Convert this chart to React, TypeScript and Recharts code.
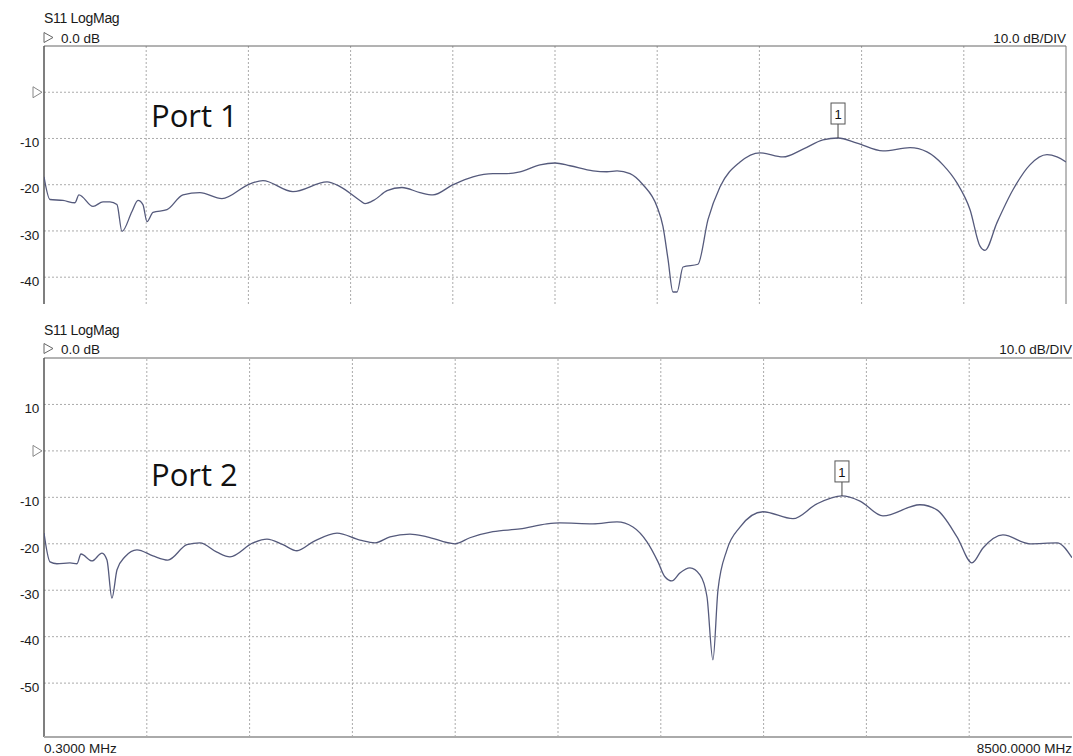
import React from "react";
import { LineChart, Line, XAxis, YAxis, ReferenceLine, ReferenceDot } from "recharts";

// ---------- data ----------
const FREQ_MIN = 0.3;
const FREQ_MAX = 8500;
const DIVISIONS = 10;

const port1Freq = [0.3, 50, 158, 258, 291, 408, 491, 549, 607, 649, 732, 782, 823, 857, 907, 1023, 1156, 1297, 1480, 1713, 1821, 2071, 2354, 2462, 2628, 2670, 2753, 2853, 2977, 3127, 3235, 3402, 3568, 3734, 3851, 3959, 4125, 4250, 4375, 4566, 4682, 4766, 4874, 4982, 5098, 5148, 5190, 5231, 5265, 5315, 5439, 5523, 5622, 5789, 5955, 6146, 6313, 6479, 6604, 6762, 6978, 7203, 7344, 7477, 7593, 7702, 7785, 7826, 7926, 8059, 8200, 8342, 8425, 8500];
const port1Db = [-18.3, -23.2, -23.4, -23.9, -22.2, -24.7, -23.7, -23.7, -24.3, -30.1, -25.8, -23.4, -24.3, -28.0, -26.0, -25.4, -22.2, -21.7, -23.0, -19.8, -19.1, -21.5, -19.4, -20.4, -23.4, -24.1, -23.2, -21.3, -20.6, -21.7, -22.2, -20.0, -18.3, -17.6, -17.6, -17.2, -15.7, -15.3, -15.9, -17.0, -17.2, -17.0, -17.6, -20.0, -24.7, -29.0, -36.1, -43.2, -43.2, -37.8, -37.2, -27.5, -20.5, -15.1, -13.1, -14.0, -12.3, -10.3, -9.9, -11.0, -12.7, -12.0, -12.9, -15.7, -19.6, -25.4, -33.3, -34.2, -28.2, -21.1, -15.7, -13.5, -14.0, -15.1];

const port2Freq = [0.3, 50, 107, 215, 273, 306, 397, 480, 521, 562, 604, 670, 769, 901, 1025, 1182, 1290, 1430, 1538, 1728, 1844, 1976, 2092, 2224, 2423, 2613, 2737, 2861, 3026, 3167, 3398, 3522, 3712, 3936, 4159, 4266, 4539, 4738, 4870, 4986, 5077, 5134, 5192, 5258, 5341, 5424, 5482, 5531, 5573, 5647, 5755, 5945, 6193, 6391, 6598, 6747, 6937, 7243, 7383, 7549, 7673, 7764, 7929, 8152, 8376, 8500];
const port2Db = [-17.7, -23.9, -24.3, -24.1, -24.3, -22.2, -23.7, -22.0, -23.5, -31.7, -25.6, -22.8, -21.3, -22.6, -23.5, -20.2, -19.8, -21.8, -22.8, -19.8, -19.0, -20.2, -21.5, -19.6, -17.7, -19.2, -19.8, -18.5, -17.9, -18.5, -20.0, -18.7, -17.4, -16.8, -15.7, -15.5, -15.7, -15.3, -16.4, -19.6, -23.9, -27.1, -28.0, -26.3, -25.2, -26.7, -31.4, -45.0, -29.9, -21.3, -16.4, -13.1, -14.6, -11.4, -9.7, -10.8, -14.0, -11.6, -12.7, -18.5, -24.1, -20.9, -18.1, -20.0, -19.8, -23.0];

const port1Ticks = [10, 0, -10, -20, -30, -40];
const port2Ticks = [20, 10, 0, -10, -20, -30, -40, -50];
const port1Domain = [-45.8, 10];
const port2Domain = [-61.6, 20];

const marker1 = { f: 6604, db: -9.9, label: "1" };
const marker2 = { f: 6598, db: -9.7, label: "1" };

const titleText = "S11 LogMag";
const refText = "0.0 dB";
const scaleText = "10.0 dB/DIV";
const startLabel = "0.3000 MHz";
const stopLabel = "8500.0000 MHz";
const portLabels = ["Port 1", "Port 2"];

// ---------- styles ----------
const FONT = "'Liberation Sans', Arial, sans-serif";
const TRACE = "#555a7c";
const GRID = "#ababab";

const divisionValues = Array.from({ length: DIVISIONS + 1 }, (_, k) => FREQ_MIN + (k * (FREQ_MAX - FREQ_MIN)) / DIVISIONS);

const makeTick = (topValue: number) => (props: any) => {
  const { x, y, payload } = props;
  const v = payload.value;
  if (v === topValue) return null;
  if (v === 0) {
    return (
      <polygon
        points={`${x - 6},${y - 5.5} ${x + 3},${y} ${x - 6},${y + 5.5}`}
        fill="none"
        stroke="#888"
        strokeWidth={1}
      />
    );
  }
  return (
    <text x={x} y={y + 4} dy="0.35em" textAnchor="end" fontFamily={FONT} fontSize={13.5} fill="#1a1a1a" letterSpacing={-0.2}>
      {v}
    </text>
  );
};

const makeMarker = (label: string) => (props: any) => {
  const { cx, cy } = props;
  return (
    <g>
      <line x1={cx} y1={cy} x2={cx} y2={cy - 14} stroke="#444" strokeWidth={1} />
      <rect x={cx - 7} y={cy - 35} width={14} height={21} fill="#fff" stroke="#555" strokeWidth={1} />
      <text x={cx} y={cy - 19} textAnchor="middle" fontFamily={FONT} fontSize={13} fill="#111">
        {label}
      </text>
    </g>
  );
};

type PanelProps = {
  freq: number[];
  db: number[];
  ticks: number[];
  domain: number[];
  marker: { f: number; db: number; label: string };
  height: number;
  margin: { top: number; right: number; bottom: number; left: number };
  rightBorder: boolean;
  bottomBorder: boolean;
};

function Panel({ freq, db, ticks, domain, marker, height, margin, rightBorder, bottomBorder }: PanelProps) {
  const data = freq.map((f, i) => ({ f, db: db[i] }));
  const top = domain[1];
  return (
    <LineChart width={1073} height={height} data={data} margin={margin}>
      <XAxis type="number" dataKey="f" domain={[FREQ_MIN, FREQ_MAX]} hide allowDataOverflow />
      <YAxis
        type="number"
        domain={domain}
        ticks={ticks}
        width={44}
        tickSize={0}
        tickMargin={5}
        axisLine={false}
        tickLine={false}
        interval={0}
        allowDataOverflow
        tick={makeTick(top)}
      />
      {ticks
        .filter((t) => t !== top)
        .map((t) => (
          <ReferenceLine key={"h" + t} y={t} stroke={GRID} strokeDasharray="2 2" strokeWidth={1} />
        ))}
      {divisionValues.slice(1, DIVISIONS).map((v) => (
        <ReferenceLine key={"v" + v} x={v} stroke={GRID} strokeDasharray="2 2" strokeWidth={1} />
      ))}
      <ReferenceLine y={top} stroke="#666" strokeWidth={1} />
      <ReferenceLine x={FREQ_MIN} stroke="#555" strokeWidth={1.5} />
      {rightBorder && <ReferenceLine x={FREQ_MAX} stroke="#777" strokeWidth={1} />}
      {bottomBorder && <ReferenceLine y={domain[0]} stroke="#aaa" strokeWidth={2} />}
      <Line
        type="monotone"
        dataKey="db"
        stroke={TRACE}
        strokeWidth={1.3}
        dot={false}
        isAnimationActive={false}
      />
      <ReferenceDot x={marker.f} y={marker.db} r={0} shape={makeMarker(marker.label)} />
    </LineChart>
  );
}

function HeaderTriangle({ x, y }: { x: number; y: number }) {
  return <polygon points={`${x},${y - 5} ${x + 9},${y} ${x},${y + 5}`} fill="none" stroke="#666" strokeWidth={1} />;
}

export default function App() {
  return (
    <div style={{ position: "absolute", left: 0, top: 0, width: 1073, height: 756, background: "#fff", overflow: "hidden" }}>
      <div style={{ position: "absolute", left: 0, top: 0 }}>
        <Panel
          freq={port1Freq}
          db={port1Db}
          ticks={port1Ticks}
          domain={port1Domain}
          marker={marker1}
          height={305}
          margin={{ top: 46, right: 7, bottom: 1, left: 0 }}
          rightBorder={true}
          bottomBorder={false}
        />
      </div>
      <div style={{ position: "absolute", left: 0, top: 0 }}>
        <Panel
          freq={port2Freq}
          db={port2Db}
          ticks={port2Ticks}
          domain={port2Domain}
          marker={marker2}
          height={740}
          margin={{ top: 358, right: 1, bottom: 3, left: 0 }}
          rightBorder={false}
          bottomBorder={true}
        />
      </div>
      <svg width={1073} height={756} style={{ position: "absolute", left: 0, top: 0, pointerEvents: "none" }}>
        <g fontFamily={FONT} fill="#1a1a1a">
          <text x={44} y={23} fontSize={14} letterSpacing={-0.3}>{titleText}</text>
          <HeaderTriangle x={44} y={37.5} />
          <text x={61} y={42.5} fontSize={13.5}>{refText}</text>
          <text x={1066} y={42.5} fontSize={13.5} textAnchor="end">{scaleText}</text>

          <text x={44} y={335} fontSize={14} letterSpacing={-0.3}>{titleText}</text>
          <HeaderTriangle x={44} y={348.5} />
          <text x={61} y={353.5} fontSize={13.5}>{refText}</text>
          <text x={1072} y={353.5} fontSize={13.5} textAnchor="end">{scaleText}</text>

          <text x={44} y={753} fontSize={13.5}>{startLabel}</text>
          <text x={1072} y={753} fontSize={13.5} textAnchor="end">{stopLabel}</text>
        </g>
        <g fontFamily="'Open Sans', 'Noto Sans', sans-serif" fill="#111" fontSize={31}>
          <text x={151} y={127}>{portLabels[0]}</text>
          <text x={151} y={486}>{portLabels[1]}</text>
        </g>
      </svg>
    </div>
  );
}
